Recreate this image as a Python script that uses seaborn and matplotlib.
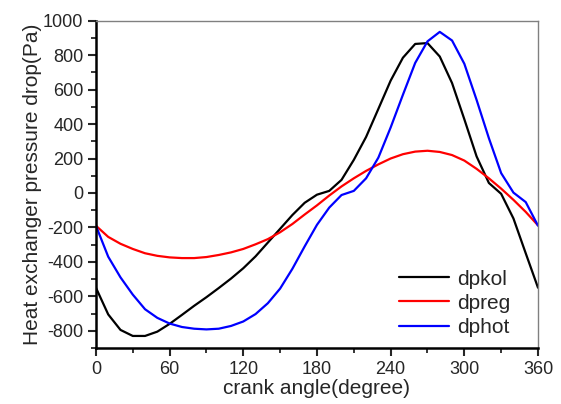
import matplotlib
matplotlib.use("Agg")
import matplotlib.pyplot as plt
import pandas as pd
import seaborn as sns
from matplotlib.ticker import MultipleLocator

# crank angle in degrees, 10 degree steps
angle = list(range(0, 361, 10))

dpkol = [-550, -705, -795, -830, -830, -805, -760, -708, -655, -605,
         -552, -497, -437, -368, -288, -208, -128, -57, -10, 12,
         76, 192, 325, 488, 652, 785, 865, 870, 792, 638,
         428, 212, 58, -5, -148, -350, -550]

dpreg = [-190, -255, -295, -325, -350, -365, -374, -378, -378, -372,
         -360, -345, -325, -298, -268, -228, -180, -125, -72, -15,
         38, 85, 128, 166, 200, 225, 240, 245, 238, 220,
         188, 140, 85, 25, -40, -110, -188]

dphot = [-190, -370, -490, -590, -675, -725, -758, -778, -788, -792,
         -788, -772, -746, -703, -640, -555, -440, -310, -185, -85,
         -12, 12, 85, 205, 380, 570, 755, 880, 935, 885,
         750, 540, 318, 115, 2, -53, -190]

series_names = ["dpkol", "dpreg", "dphot"]
colors = {"dpkol": "#000000", "dpreg": "#ff0000", "dphot": "#0000ff"}

df = pd.DataFrame({"angle": angle, "dpkol": dpkol, "dpreg": dpreg, "dphot": dphot})
long_df = df.melt(id_vars="angle", value_vars=series_names,
                  var_name="series", value_name="dp")

sns.set_style("ticks")
plt.rcParams["font.family"] = ["Liberation Sans", "DejaVu Sans"]
plt.rcParams["axes.unicode_minus"] = False

fig = plt.figure(figsize=(5.61, 4.04), dpi=100)
ax = fig.add_axes([0.171, 0.1386, 0.788, 0.8102])

sns.lineplot(data=long_df, x="angle", y="dp", hue="series", hue_order=series_names,
             palette=colors, linewidth=1.6, ax=ax)

ax.set_xlim(0, 360)
ax.set_ylim(-900, 1000)
ax.xaxis.set_major_locator(MultipleLocator(60))
ax.xaxis.set_minor_locator(MultipleLocator(30))
ax.set_yticks(range(-800, 1001, 200))
ax.yaxis.set_minor_locator(MultipleLocator(100))

ax.tick_params(which="major", direction="out", length=6, width=1.5,
               labelsize=13, top=False, right=False, pad=3)
ax.tick_params(which="minor", direction="out", length=3.5, width=1.3,
               top=False, right=False)

for side in ["left", "bottom"]:
    ax.spines[side].set_linewidth(1.8)
    ax.spines[side].set_color("black")
for side in ["top", "right"]:
    ax.spines[side].set_visible(True)
    ax.spines[side].set_linewidth(1.0)
    ax.spines[side].set_color("#808080")

ax.set_xlabel("crank angle(degree)", fontsize=15, labelpad=1)
ax.set_ylabel("Heat exchanger pressure drop(Pa)", fontsize=15, labelpad=1)

leg = ax.legend(loc="lower right", bbox_to_anchor=(0.909, 0.166),
                bbox_transform=fig.transFigure, frameon=False, fontsize=15,
                handlelength=2.4, handletextpad=0.35, labelspacing=0.25,
                borderpad=0, borderaxespad=0)
for line in leg.get_lines():
    line.set_linewidth(1.6)

fig.savefig("out.png", dpi=100)
